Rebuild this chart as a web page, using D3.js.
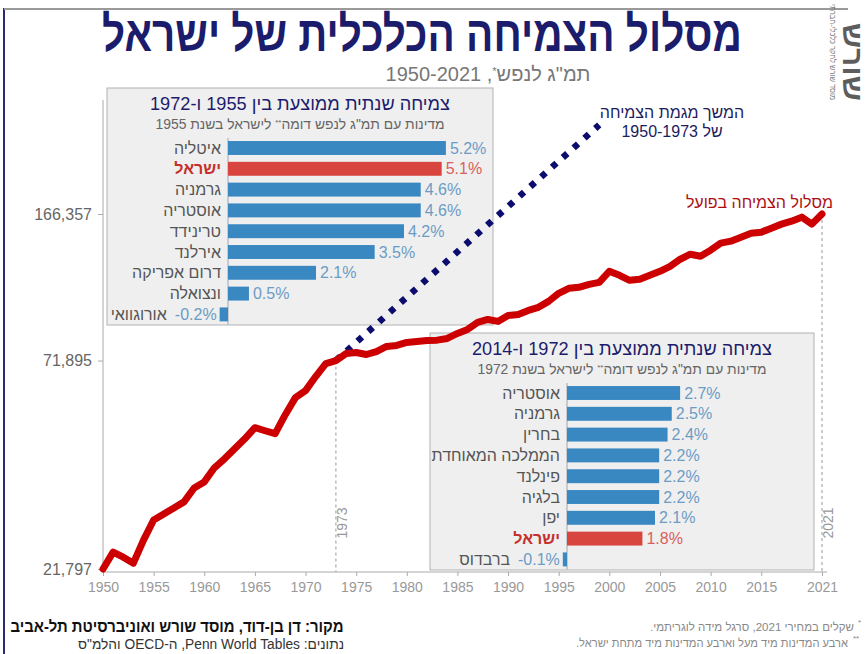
<!DOCTYPE html>
<html>
<head>
<meta charset="utf-8">
<script src="https://cdn.jsdelivr.net/npm/d3@7"></script>
<style>
  body { margin: 0; background: #fff; }
  svg { display: block; font-family: "Liberation Sans", Arial, "DejaVu Sans", sans-serif; }
</style>
</head>
<body>
<svg id="chart" width="867" height="654"></svg>
<script>
// GDP per capita (2021 shekels)
const gdpPerCapita = [
  [1950, 21797], [1951, 24010], [1952, 23320], [1953, 22540], [1954, 25720],
  [1955, 28860], [1956, 29870], [1957, 30920], [1958, 32010], [1959, 34670],
  [1960, 35890], [1961, 38900], [1962, 40950], [1963, 43370], [1964, 45940],
  [1965, 48940], [1966, 48100], [1967, 47290], [1968, 52720], [1969, 58140],
  [1970, 60530], [1971, 65590], [1972, 70660], [1973, 71895], [1974, 74840],
  [1975, 75280], [1976, 74420], [1977, 75700], [1978, 77920], [1979, 78370],
  [1980, 79730], [1981, 80190], [1982, 80650], [1983, 80800], [1984, 81590],
  [1985, 83950], [1986, 85900], [1987, 89430], [1988, 90960], [1989, 89940],
  [1990, 93090], [1991, 93630], [1992, 95810], [1993, 97480], [1994, 100880],
  [1995, 105630], [1996, 108710], [1997, 109320], [1998, 111230], [1999, 112510],
  [2000, 119820], [2001, 117120], [2002, 113810], [2003, 114460], [2004, 117120],
  [2005, 119820], [2006, 123320], [2007, 128400], [2008, 132130], [2009, 130650],
  [2010, 135210], [2011, 140770], [2012, 142400], [2013, 145680], [2014, 149070],
  [2015, 149930], [2016, 153420], [2017, 156990], [2018, 159690], [2019, 163400],
  [2020, 157000], [2021, 166357]
];

// continuation of the 1950-1973 trend (start and end points)
const trendLine = [[1973, 71895], [1999, 277000]];

const yTicks = [21797, 71895, 166357];
const xTicks = [1950, 1955, 1960, 1965, 1970, 1975, 1980, 1985, 1990, 1995, 2000, 2005, 2010, 2015, 2021];
const markerYears = [1973, 2021];

const inset1Countries = ['איטליה', 'ישראל', 'גרמניה', 'אוסטריה', 'טרינידד', 'אירלנד', 'דרום אפריקה', 'ונצואלה', 'אורוגוואי'];
const inset1Growth = [5.2, 5.1, 4.6, 4.6, 4.2, 3.5, 2.1, 0.5, -0.2];
const inset2Countries = ['אוסטריה', 'גרמניה', 'בחרין', 'הממלכה המאוחדת', 'פינלנד', 'בלגיה', 'יפן', 'ישראל', 'ברבדוס'];
const inset2Growth = [2.7, 2.5, 2.4, 2.2, 2.2, 2.2, 2.1, 1.8, -0.1];
const highlight = 'ישראל';

const svg = d3.select('#chart');

// frame
svg.append('line').attr('x1', 4).attr('x2', 4).attr('y1', 8).attr('y2', 654)
  .attr('stroke', '#2b2b6b').attr('stroke-width', 2);
svg.append('line').attr('x1', 4).attr('x2', 848).attr('y1', 9).attr('y2', 9)
  .attr('stroke', '#9a9a9a').attr('stroke-width', 2);

// title (narrowed to the reference width) + subtitle
const title = svg.append('text').attr('text-anchor', 'middle')
  .attr('direction', 'rtl').attr('font-size', 49).attr('font-weight', 'bold')
  .attr('fill', '#1c1c6c').text('מסלול הצמיחה הכלכלית של ישראל');
const titleW = title.node().getComputedTextLength();
title.attr('transform', `translate(422,51) scale(${640 / titleW},1)`);

const sub = svg.append('text').attr('x', 488).attr('y', 81).attr('text-anchor', 'middle')
  .attr('direction', 'rtl').attr('font-size', 20).attr('fill', '#777');
sub.append('tspan').text('תמ"ג לנפש');
sub.append('tspan').attr('baseline-shift', 'super').attr('font-size', 11).text('*');
sub.append('tspan').text(', 1950-2021');

// logo
svg.append('g').attr('transform', 'translate(843,62) rotate(90)')
  .append('text').attr('text-anchor', 'middle').attr('font-size', 28).attr('font-weight', 'bold')
  .attr('fill', '#5d5d5d').attr('textLength', 78).attr('lengthAdjust', 'spacingAndGlyphs').text('שורש');
svg.append('g').attr('transform', 'translate(830,52) rotate(90)')
  .append('text').attr('text-anchor', 'middle').attr('font-size', 8).attr('fill', '#777')
  .attr('textLength', 96).attr('lengthAdjust', 'spacingAndGlyphs').text('מוסד שורש לחקר כלכלי-חברתי');

// scales
const x = d3.scaleLinear().domain([1950, 2021]).range([103, 822]);
const y = d3.scaleLog().domain([21797, 166357]).range([569, 214]);

// insets (drawn under the lines)
function drawInset(box, title, subParts, countries, growth) {
  const g = svg.append('g');
  g.append('rect').attr('x', box.x).attr('y', box.y).attr('width', box.w).attr('height', box.h)
    .attr('fill', '#efefef').attr('stroke', '#b2b2b2');
  const cx = box.x + box.w / 2;
  g.append('text').attr('x', cx).attr('y', box.y + 22).attr('text-anchor', 'middle')
    .attr('direction', 'rtl').attr('font-size', 19).attr('fill', '#1c1c6c')
    .attr('textLength', 300).attr('lengthAdjust', 'spacingAndGlyphs').text(title);
  const st = g.append('text').attr('x', cx).attr('y', box.y + 41).attr('text-anchor', 'middle')
    .attr('direction', 'rtl').attr('font-size', 14).attr('fill', '#666')
    .attr('textLength', 289).attr('lengthAdjust', 'spacingAndGlyphs');
  st.append('tspan').text(subParts[0]);
  st.append('tspan').attr('baseline-shift', 'super').attr('font-size', 8).text('**');
  st.append('tspan').text(subParts[1]);

  const base = box.x + box.base;
  const bx = d3.scaleLinear().domain([0, 5]).range([base, base + 209.5]);
  const by = d3.scaleBand().domain(countries)
    .range([box.y + 49.6, box.y + 49.6 + 9 * 20.8]).paddingInner(0.33).paddingOuter(0.165);

  const rows = countries.map((c, i) => ({ c, v: growth[i] }));
  g.append('line').attr('x1', base).attr('x2', base)
    .attr('y1', by(countries[0]) - 3).attr('y2', by(countries[8]) + by.bandwidth() + 3)
    .attr('stroke', '#9aa6b2').attr('stroke-width', 1);
  g.selectAll('rect.bar').data(rows).join('rect').attr('class', 'bar')
    .attr('x', d => bx(Math.min(0, d.v))).attr('width', d => Math.abs(bx(d.v) - bx(0)))
    .attr('y', d => by(d.c)).attr('height', by.bandwidth())
    .attr('fill', d => d.c === highlight ? '#d8453e' : '#3a88c2');

  rows.forEach(d => {
    const yc = by(d.c) + by.bandwidth() / 2 + 5.5;
    const isIsr = d.c === highlight;
    const val = g.append('text').attr('y', yc).attr('font-size', 16)
      .attr('fill', isIsr ? '#d9605a' : '#6b9cc6').text(d.v.toFixed(1) + '%');
    let labelX = base - 7;
    if (d.v >= 0) {
      val.attr('x', bx(d.v) + 4).attr('text-anchor', 'start');
    } else {
      val.attr('x', bx(d.v) - 3).attr('text-anchor', 'end');
      labelX = bx(d.v) - 3 - val.node().getComputedTextLength() - 8;
    }
    g.append('text').attr('x', labelX).attr('y', yc).attr('text-anchor', 'end')
      .attr('font-size', 16).attr('font-weight', isIsr ? 'bold' : 'normal')
      .attr('fill', isIsr ? '#c4302b' : '#555').text(d.c);
  });
}

drawInset({ x: 107, y: 88, w: 386, h: 237, base: 121 },
  'צמיחה שנתית ממוצעת בין 1955 ו-1972',
  ['מדינות עם תמ"ג לנפש דומה', ' לישראל בשנת  1955'],
  inset1Countries, inset1Growth);
drawInset({ x: 430, y: 333, w: 384, h: 237, base: 137 },
  'צמיחה שנתית ממוצעת בין 1972 ו-2014',
  ['מדינות עם תמ"ג לנפש דומה', ' לישראל בשנת  1972'],
  inset2Countries, inset2Growth);

// axes
svg.append('line').attr('x1', 103).attr('x2', 103).attr('y1', 100).attr('y2', 572).attr('stroke', '#aaa');
svg.append('line').attr('x1', 103).attr('x2', 827).attr('y1', 572).attr('y2', 572).attr('stroke', '#aaa');

const xAxis = svg.append('g').attr('transform', 'translate(0,572)')
  .call(d3.axisBottom(x).tickValues(xTicks).tickFormat(d3.format('d')).tickSize(4).tickPadding(6));
const yAxis = svg.append('g').attr('transform', 'translate(103,0)')
  .call(d3.axisLeft(y).tickValues(yTicks).tickFormat(d3.format(',')).tickSize(5).tickPadding(6));
[xAxis, yAxis].forEach(a => {
  a.select('.domain').remove();
  a.selectAll('line').attr('stroke', '#aaa');
  a.selectAll('text').attr('font-family', null);
});
xAxis.attr('font-size', 14).selectAll('text').attr('fill', '#999');
yAxis.attr('font-size', 16).selectAll('text').attr('fill', '#666');

// year markers
const yearVal = new Map(gdpPerCapita);
markerYears.forEach(yr => {
  svg.append('line').attr('x1', x(yr)).attr('x2', x(yr))
    .attr('y1', y(yearVal.get(yr))).attr('y2', 572)
    .attr('stroke', '#999').attr('stroke-dasharray', '3,3');
  svg.append('text').attr('transform', `translate(${x(yr) + 11},523) rotate(-90)`)
    .attr('text-anchor', 'middle').attr('font-size', 14).attr('fill', '#999').text(yr);
});

// trend continuation (dotted)
const line = d3.line().x(d => x(d[0])).y(d => y(d[1]));
svg.append('path').datum(trendLine).attr('d', line)
  .attr('fill', 'none').attr('stroke', '#0c0c6e').attr('stroke-width', 6.5)
  .attr('stroke-dasharray', '6 8.5');

// actual growth path
svg.append('path').datum(gdpPerCapita).attr('d', line)
  .attr('fill', 'none').attr('stroke', '#cc0000').attr('stroke-width', 7)
  .attr('stroke-linejoin', 'round').attr('stroke-linecap', 'round');

// annotations
svg.append('text').attr('x', 833).attr('y', 208).attr('text-anchor', 'end')
  .attr('font-size', 16).attr('fill', '#b00d12').text('מסלול הצמיחה בפועל');
svg.append('text').attr('x', 672).attr('y', 118).attr('text-anchor', 'middle')
  .attr('font-size', 16).attr('fill', '#1c1c5e').text('המשך מגמת הצמיחה');
svg.append('text').attr('x', 672).attr('y', 137).attr('text-anchor', 'middle').attr('direction', 'rtl')
  .attr('font-size', 16).attr('fill', '#1c1c5e').text('של 1950-1973');

// footer
svg.append('text').attr('x', 177).attr('y', 632).attr('text-anchor', 'middle').attr('direction', 'rtl')
  .attr('font-size', 16).attr('font-weight', 'bold').attr('fill', '#111')
  .attr('textLength', 333).attr('lengthAdjust', 'spacingAndGlyphs')
  .text('מקור: דן בן-דוד, מוסד שורש ואוניברסיטת תל-אביב');
svg.append('text').attr('x', 211).attr('y', 649).attr('text-anchor', 'middle').attr('direction', 'rtl')
  .attr('font-size', 14).attr('fill', '#333')
  .attr('textLength', 266).attr('lengthAdjust', 'spacingAndGlyphs')
  .text('נתונים: Penn World Tables, ה-OECD והלמ"ס');

// footnotes, with their asterisk marks set apart as superscripts
svg.append('text').attr('x', 752).attr('y', 631).attr('text-anchor', 'middle').attr('direction', 'rtl')
  .attr('font-size', 11).attr('fill', '#888').attr('textLength', 204).attr('lengthAdjust', 'spacingAndGlyphs')
  .text('שקלים במחירי 2021, סרגל מידה לוגריתמי.');
svg.append('text').attr('x', 858).attr('y', 625).attr('font-size', 8).attr('fill', '#888').text('*');
svg.append('text').attr('x', 712).attr('y', 647).attr('text-anchor', 'middle').attr('direction', 'rtl')
  .attr('font-size', 11).attr('fill', '#888').attr('textLength', 272).attr('lengthAdjust', 'spacingAndGlyphs')
  .text('ארבע המדינות מיד מעל וארבע המדינות מיד מתחת ישראל.');
svg.append('text').attr('x', 853).attr('y', 641).attr('font-size', 8).attr('fill', '#888').text('**');
</script>
</body>
</html>
